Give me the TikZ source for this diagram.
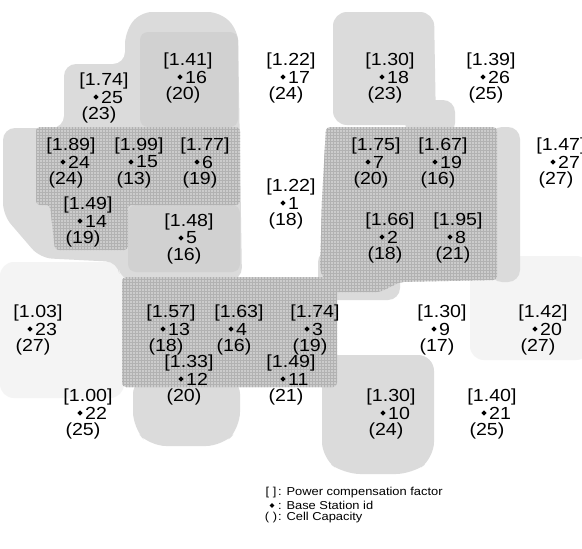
\documentclass[tikz,border=0pt]{standalone}
\usepackage{fontspec}
\newfontfamily\lblfont{Liberation Sans}[FakeStretch=1.12]
\usetikzlibrary{shapes.geometric,patterns}
\definecolor{shlight}{gray}{0.86}
\definecolor{shmid}{gray}{0.82}
\definecolor{shdark}{gray}{0.80}
\definecolor{shfaint}{gray}{0.955}
\newcommand\bstation[5]{%
  \node[bsdot] (s#3) at (#1,#2) {};
  \node[lbl] (p#3) at (#1+8,#2-16) {[#4]};
  \node[lbl,anchor=west] (i#3) at (#1+5,#2) {#3};
  \node[lbl] (c#3) at (#1+3,#2+18) {(#5)};
}
\begin{document}
\begin{tikzpicture}[x=1pt,y=-1pt,
  bsdot/.style={diamond,fill=black,inner sep=0pt,minimum size=5.5pt},
  lbl/.style={font=\lblfont\fontsize{17.5}{17.5}\selectfont,inner sep=0pt},
  leg/.style={font=\lblfont\fontsize{11.5}{11.5}\selectfont,inner sep=0pt},
  faint/.style={fill=shfaint,rounded corners=14pt},
  light/.style={fill=shlight,rounded corners=12pt},
  mid/.style={fill=shmid,rounded corners=8pt},
  dark/.style={fill=shdark,rounded corners=4pt,
    postaction={pattern=grid,pattern color=black!30}}]
\useasboundingbox (0,0) rectangle (582,549);
\clip (0,0) rectangle (582,549);
\fill[white] (0,0) rectangle (582,549);
% faint halos
\fill[faint] (0,262) rectangle (124,398);
\fill[faint] (470,256) rectangle (590,360);
% region A (left cluster)
\fill[light] (125,32) -- (140,12) -- (220,12) -- (238,30) -- (242,280) -- (120,280)
  -- (118,262) -- (40,258) -- (3,215) -- (3,128) -- (64,128) -- (64,64) -- (125,64) -- cycle;
\fill[mid] (140,32) -- (238,32) -- (238,127) -- (140,127) -- cycle;
\fill[mid] (128,205) -- (240,205) -- (240,272) -- (128,272) -- cycle;
\fill[dark] (36,127) -- (240,127) -- (240,205) -- (128,205) -- (128,250) -- (55,250)
  -- (50,205) -- (36,205) -- cycle;
% region B (around 18)
\fill[light,rounded corners=14pt] (333,125) -- (333,12) -- (434,12) -- (436,125) -- cycle;
\fill[light] (405,100) -- (455,100) -- (455,135) -- (405,135) -- cycle;
% region C (right cluster)
\fill[light] (490,127) -- (520,127) -- (520,282) -- (490,282) -- cycle;
\fill[light] (318,250) -- (400,250) -- (400,300) -- (318,300) -- cycle;
\fill[dark] (326,127) -- (497,127) -- (497,280) -- (400,282) -- (380,292) -- (330,292)
  -- (320,270) -- (322,200) -- cycle;
% region E (around 10)
\fill[light,rounded corners=16pt] (322,355) -- (434,355) -- (434,458) -- (412,474)
  -- (344,474) -- (322,458) -- cycle;
% region D (bottom middle)
\fill[light,rounded corners=16pt] (133,378) -- (240,378) -- (240,428) -- (222,446)
  -- (150,446) -- (133,428) -- cycle;
\fill[dark] (122,277) rectangle (337,387);
% stations
\bstation{283}{203}{1}{1.22}{18}
\bstation{382}{237}{2}{1.66}{18}
\bstation{307}{329}{3}{1.74}{19}
\bstation{231}{329}{4}{1.63}{16}
\bstation{181}{238}{5}{1.48}{16}
\bstation{197}{162}{6}{1.77}{19}
\bstation{368}{162}{7}{1.75}{20}
\bstation{450}{237}{8}{1.95}{21}
\bstation{434}{329}{9}{1.30}{17}
\bstation{383}{413}{10}{1.30}{24}
\bstation{283}{379}{11}{1.49}{21}
\bstation{181}{379}{12}{1.33}{20}
\bstation{163}{329}{13}{1.57}{18}
\bstation{80}{221}{14}{1.49}{19}
\bstation{131}{162}{15}{1.99}{13}
\bstation{180}{77}{16}{1.41}{20}
\bstation{283}{77}{17}{1.22}{24}
\bstation{382}{77}{18}{1.30}{23}
\bstation{435}{162}{19}{1.67}{16}
\bstation{535}{329}{20}{1.42}{27}
\bstation{484}{413}{21}{1.40}{25}
\bstation{80}{413}{22}{1.00}{25}
\bstation{30}{329}{23}{1.03}{27}
\bstation{63}{162}{24}{1.89}{24}
\bstation{96}{97}{25}{1.74}{23}
\bstation{483}{77}{26}{1.39}{25}
\bstation{553}{162}{27}{1.47}{27}
% legend
\node[leg] (k1) at (271,493) {[\,\,]};
\node[leg,anchor=west] (t1) at (278,493) {: Power compensation factor};
\node[bsdot,minimum size=5pt] (k2) at (272,505.5) {};
\node[leg,anchor=west] (t2) at (278,505.5) {: Base Station id};
\node[leg] (k3) at (271,518) {(\,\,)};
\node[leg,anchor=west] (t3) at (278,518) {: Cell Capacity};
\end{tikzpicture}
\end{document}
